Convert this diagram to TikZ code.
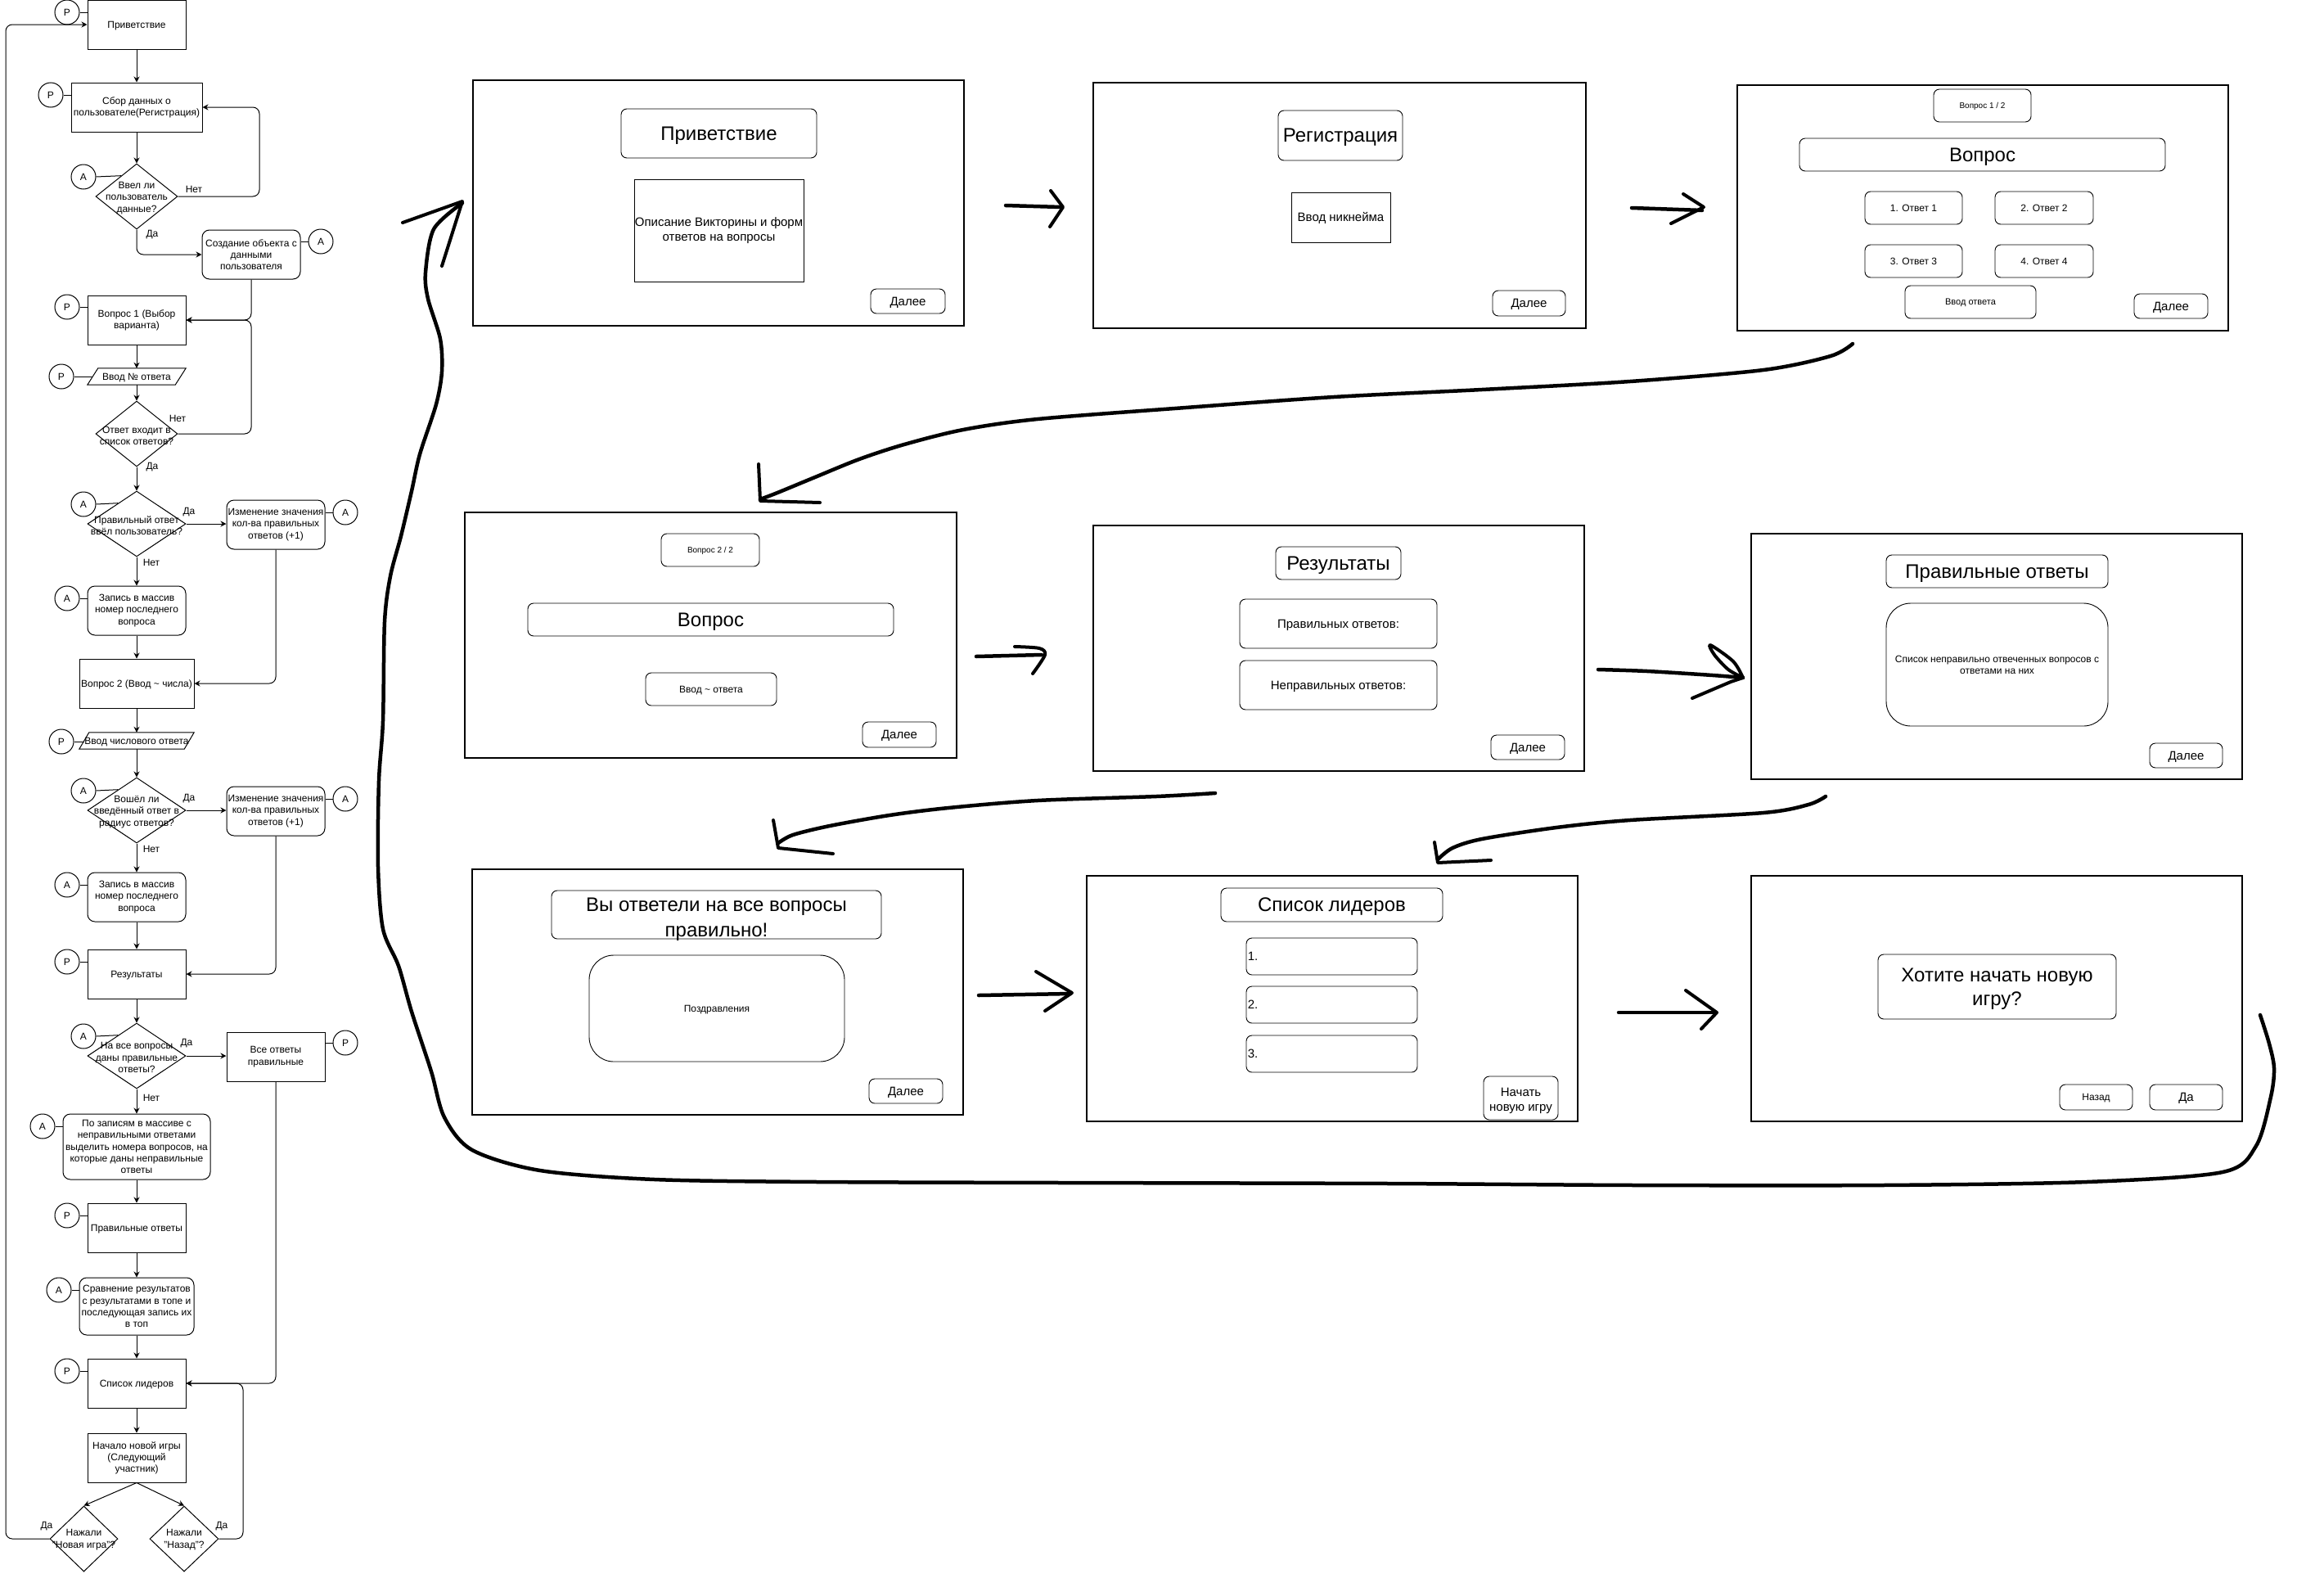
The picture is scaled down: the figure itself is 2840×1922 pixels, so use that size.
\documentclass[tikz,border=0pt]{standalone}
\usepackage{fontspec}
\setmainfont{Liberation Sans}
\usetikzlibrary{shapes.geometric,arrows.meta,calc}
\tikzset{
  f10/.style={font=\fontsize{10pt}{12pt}\selectfont},
  f11/.style={font=\fontsize{11pt}{13pt}\selectfont},
  f12/.style={font=\fontsize{12pt}{14.2pt}\selectfont},
  f15/.style={font=\fontsize{15pt}{18.5pt}\selectfont},
  f24/.style={font=\fontsize{24pt}{29pt}\selectfont},
  s10/.style={f10,text height=9pt,text depth=2.1pt},
  s11/.style={f11,text height=10pt,text depth=2.3pt},
  s12/.style={f12,text height=10.9pt,text depth=2.5pt},
  s15/.style={f15,text height=13.6pt,text depth=3.2pt},
  s24/.style={f24,text height=21.7pt,text depth=5.1pt},
  ln/.style={line width=1pt},
  arr/.style={line width=1pt,-{Stealth[length=7pt,width=7pt]}},
  proc/.style={draw,line width=1pt,rectangle,align=center,inner sep=0pt,f12,minimum width=120,minimum height=60},
  rproc/.style={proc,rounded corners=9pt},
  dec/.style={draw,line width=1pt,diamond,inner sep=0pt},
  dtext/.style={align=center,inner sep=0pt,f12},
  conn/.style={draw,circle,line width=1pt,minimum size=30,inner sep=0pt,f12},
  lbl/.style={inner sep=0pt,f12},
  scr/.style={draw,line width=1.2pt,rectangle,inner sep=0pt},
  ui/.style={draw,line width=0.9pt,rounded corners=7pt,align=center,inner sep=0pt},
  uisq/.style={draw,line width=0.9pt,rectangle,align=center,inner sep=0pt},
  uitext/.style={align=center,inner sep=0pt},
  hand/.style={line width=4.5pt,line cap=round,line join=round},
  handhead/.style={line width=4pt,line cap=round,line join=round}
}
\begin{document}
\begin{tikzpicture}[x=1pt,y=-1pt]
\useasboundingbox (0,0) rectangle (2840,1922);
\fill[white] (0,0) rectangle (2840,1922);

% ---------------- Flowchart ----------------
\node[proc,s12] (prv) at (167,30) {Приветствие};
\node[proc,minimum width=160] (sbor) at (167,131) {Сбор данных о\\пользователе(Регистрация)};
\node[dec,minimum width=100,minimum height=80] (d1) at (167,240) {};
\node[dtext] (d1t) at (167,242) {Ввел ли\\пользователь\\данные?};
\node[rproc] (sozd) at (307,311) {Создание объекта с\\данными\\пользователя};
\node[proc] (v1) at (167,391) {Вопрос 1 (Выбор\\варианта)};
\node[minimum width=120,minimum height=20,inner sep=0pt,s12] (in1) at (167,460) {Ввод № ответа};
\draw[ln] (in1.south west) -- ($(in1.north west)+(13,0)$) -- (in1.north east) -- ($(in1.south east)+(-13,0)$) -- cycle;
\node[dec,minimum width=100,minimum height=80] (d2) at (167,530) {};
\node[dtext] (d2t) at (167,532) {Ответ входит в\\список ответов?};
\node[dec,minimum width=120,minimum height=80] (d3) at (167,640) {};
\node[dtext] (d3t) at (167,642) {Правильный ответ\\ввёл пользователь?};
\node[rproc] (izm1) at (337,641) {Изменение значения\\кол-ва правильных\\ответов (+1)};
\node[rproc] (zap1) at (167,746) {Запись в массив\\номер последнего\\вопроса};
\node[proc,s12,minimum width=140] (v2) at (167,835) {Вопрос 2 (Ввод \textasciitilde\ числа)};
\node[minimum width=140,minimum height=20,inner sep=0pt,s12] (in2) at (167,905) {Ввод числового ответа};
\draw[ln] (in2.south west) -- ($(in2.north west)+(12,0)$) -- (in2.north east) -- ($(in2.south east)+(-12,0)$) -- cycle;
\node[dec,minimum width=120,minimum height=80] (d4) at (167,990) {};
\node[dtext] (d4t) at (167,992) {Вошёл ли\\введённый ответ в\\радиус ответов?};
\node[rproc] (izm2) at (337,991) {Изменение значения\\кол-ва правильных\\ответов (+1)};
\node[rproc] (zap2) at (167,1096) {Запись в массив\\номер последнего\\вопроса};
\node[proc,s12] (res) at (167,1190) {Результаты};
\node[dec,minimum width=120,minimum height=80] (d5) at (167,1290) {};
\node[dtext] (d5t) at (167,1292) {На все вопросы\\даны правильные\\ответы?};
\node[proc] (vse) at (337,1291) {Все ответы\\правильные};
\node[rproc,minimum width=180,minimum height=80] (pozap) at (167,1401) {По записям в массиве с\\неправильными ответами\\выделить номера вопросов, на\\которые даны неправильные\\ответы};
\node[proc,s12] (pravotv) at (167,1500) {Правильные ответы};
\node[rproc,minimum width=140,minimum height=70] (sravn) at (167,1596) {Сравнение результатов\\с результатами в топе и\\последующая запись их\\в топ};
\node[proc,s12] (spisok) at (167,1690) {Список лидеров};
\node[proc] (nachalo) at (167,1781) {Начало новой игры\\(Следующий\\участник)};
\node[dec,minimum width=83,minimum height=80] (d6) at (102.5,1880) {};
\node[dtext] (d6t) at (102.5,1881) {Нажали\\"Новая игра"?};
\node[dec,minimum width=84,minimum height=80] (d7) at (225,1880) {};
\node[dtext] (d7t) at (225,1881) {Нажали\\"Назад"?};

% connectors circles
\node[conn] (c1) at (82,15) {P};
\draw[ln] (c1.east) -- (c1.east -| prv.west);
\node[conn] (c2) at (62,116) {P};
\draw[ln] (c2.east) -- (c2.east -| sbor.west);
\node[conn] (c3) at (102,216) {A};
\draw[ln] (c3.east) -- ($(d1.north)!0.375!(d1.west)$);
\node[conn] (c4) at (392,295) {A};
\draw[ln] (c4.west) -- (c4.west -| sozd.east);
\node[conn] (c5) at (82,375) {P};
\draw[ln] (c5.east) -- (c5.east -| v1.west);
\node[conn] (c6) at (75,460) {P};
\draw[ln] (c6.east) -- ($(in1.west)+(6,0)$);
\node[conn] (c7) at (102,616) {A};
\draw[ln] (c7.east) -- ($(d3.north)!0.375!(d3.west)$);
\node[conn] (c8) at (422,626) {A};
\draw[ln] (c8.west) -- (c8.west -| izm1.east);
\node[conn] (c9) at (82,731) {A};
\draw[ln] (c9.east) -- (c9.east -| zap1.west);
\node[conn] (c10) at (75,906) {P};
\draw[ln] (c10.east) -- ($(in2.west)+(6,1)$);
\node[conn] (c11) at (102,966) {A};
\draw[ln] (c11.east) -- ($(d4.north)!0.375!(d4.west)$);
\node[conn] (c12) at (422,976) {A};
\draw[ln] (c12.west) -- (c12.west -| izm2.east);
\node[conn] (c13) at (82,1081) {A};
\draw[ln] (c13.east) -- (c13.east -| zap2.west);
\node[conn] (c14) at (82,1175) {P};
\draw[ln] (c14.east) -- (c14.east -| res.west);
\node[conn] (c15) at (102,1266) {A};
\draw[ln] (c15.east) -- ($(d5.north)!0.375!(d5.west)$);
\node[conn] (c16) at (422,1274) {P};
\draw[ln] (c16.west) -- (c16.west -| vse.east);
\node[conn] (c17) at (52,1376) {A};
\draw[ln] (c17.east) -- (c17.east -| pozap.west);
\node[conn] (c18) at (82,1485) {P};
\draw[ln] (c18.east) -- (c18.east -| pravotv.west);
\node[conn] (c19) at (72,1576) {A};
\draw[ln] (c19.east) -- (c19.east -| sravn.west);
\node[conn] (c20) at (82,1675) {P};
\draw[ln] (c20.east) -- (c20.east -| spisok.west);

% flow edges
\draw[arr] (prv) -- (sbor);
\draw[arr] (sbor) -- (d1.north);
\draw[arr,rounded corners=8pt] (d1.east) -- (317,240) -- (317,131) -- (sbor.east);
\draw[arr,rounded corners=8pt] (d1.south) -- (167,311) -- (sozd.west);
\draw[arr,rounded corners=8pt] (sozd.south) -- (307,391) -- (v1.east);
\draw[arr] (v1) -- (in1);
\draw[arr] (in1) -- (d2.north);
\draw[arr,rounded corners=8pt] (d2.east) -- (307,530) -- (307,391) -- (v1.east);
\draw[arr] (d2.south) -- (d3.north);
\draw[arr] (d3.east) -- (d3.east -| izm1.west);
\draw[arr] (d3.south) -- (zap1.north);
\draw[arr] (zap1) -- (v2);
\draw[arr,rounded corners=8pt] (izm1.south) -- (337,835) -- (v2.east);
\draw[arr] (v2) -- (in2);
\draw[arr] (in2) -- (d4.north);
\draw[arr] (d4.east) -- (d4.east -| izm2.west);
\draw[arr] (d4.south) -- (zap2.north);
\draw[arr] (zap2) -- (res);
\draw[arr,rounded corners=8pt] (izm2.south) -- (337,1190) -- (res.east);
\draw[arr] (res) -- (d5.north);
\draw[arr] (d5.east) -- (d5.east -| vse.west);
\draw[arr] (d5.south) -- (pozap.north);
\draw[arr] (pozap) -- (pravotv);
\draw[arr] (pravotv) -- (sravn);
\draw[arr] (sravn) -- (spisok);
\draw[arr,rounded corners=8pt] (vse.south) -- (337,1690) -- (spisok.east);
\draw[arr] (spisok) -- (nachalo);
\draw[arr] (nachalo.south) -- (d6.north);
\draw[arr] (nachalo.south) -- (d7.north);
\draw[arr,rounded corners=8pt] (d6.west) -- (7,1880) -- (7,30) -- (prv.west);
\draw[arr,rounded corners=8pt] (d7.east) -- (297,1880) -- (297,1690) -- (spisok.east);

% edge labels
\node[lbl] at (237,231) {Нет};
\node[lbl] at (186,287) {Да};
\node[lbl] at (217,511) {Нет};
\node[lbl] at (186,571) {Да};
\node[lbl] at (231,626) {Да};
\node[lbl] at (185,687) {Нет};
\node[lbl] at (231,976) {Да};
\node[lbl] at (185,1037) {Нет};
\node[lbl] at (228,1275) {Да};
\node[lbl] at (185,1341) {Нет};
\node[lbl] at (57,1865) {Да};
\node[lbl] at (271,1865) {Да};

% ---------------- Screens ----------------
% S1
\node[scr,minimum width=600,minimum height=300] (s1) at (878,248) {};
\node[ui,s24,minimum width=239,minimum height=60] (s1t) at (878.5,163) {Приветствие};
\node[uisq,f15,minimum width=207,minimum height=125] (s1d) at (878.5,281.5) {Описание Викторины и форм\\ответов на вопросы};
\node[ui,s15,minimum width=91,minimum height=30] (s1n) at (1109.5,368) {Далее};
% S2
\node[scr,minimum width=602,minimum height=300] (s2) at (1637,251) {};
\node[ui,s24,minimum width=152,minimum height=61] (s2t) at (1638,165.5) {Регистрация};
\node[uisq,s15,minimum width=121,minimum height=61] (s2d) at (1638.5,265.5) {Ввод никнейма};
\node[ui,s15,minimum width=89,minimum height=31] (s2n) at (1868.5,370.5) {Далее};
% S3
\node[scr,minimum width=600,minimum height=300] (s3) at (2423,254) {};
\node[ui,s10,minimum width=119,minimum height=40] (s3q) at (2422.5,129) {Вопрос 1 / 2};
\node[ui,s24,minimum width=447,minimum height=40] (s3v) at (2422.5,189) {Вопрос};
\node[ui,s12,minimum width=119,minimum height=40] (s3a1) at (2338.5,254) {1. Ответ 1};
\node[ui,s12,minimum width=120,minimum height=40] (s3a2) at (2498,254) {2. Ответ 2};
\node[ui,s12,minimum width=119,minimum height=40] (s3a3) at (2338.5,319) {3. Ответ 3};
\node[ui,s12,minimum width=120,minimum height=40] (s3a4) at (2498,319) {4. Ответ 4};
\node[ui,s11,minimum width=160,minimum height=40] (s3i) at (2408,369) {Ввод ответа};
\node[ui,s15,minimum width=90,minimum height=30] (s3n) at (2653,374) {Далее};
% S4
\node[scr,minimum width=601,minimum height=300] (s4) at (868.5,776) {};
\node[ui,s10,minimum width=120,minimum height=40] (s4q) at (868,672) {Вопрос 2 / 2};
\node[ui,s24,minimum width=447,minimum height=40] (s4v) at (868.5,757) {Вопрос};
\node[ui,s12,minimum width=160,minimum height=40] (s4i) at (869,842) {Ввод \textasciitilde\ ответа};
\node[ui,s15,minimum width=90,minimum height=31] (s4n) at (1099,897.5) {Далее};
% S5
\node[scr,minimum width=600,minimum height=300] (s5) at (1636,792) {};
\node[ui,s24,minimum width=153,minimum height=40] (s5t) at (1635.5,688) {Результаты};
\node[ui,s15,minimum width=241,minimum height=60] (s5p) at (1635.5,762) {Правильных ответов:};
\node[ui,s15,minimum width=241,minimum height=60] (s5w) at (1635.5,837) {Неправильных ответов:};
\node[ui,s15,minimum width=90,minimum height=30] (s5n) at (1867,913) {Далее};
% S6
\node[scr,minimum width=600,minimum height=300] (s6) at (2440,802) {};
\node[ui,s24,minimum width=271,minimum height=40] (s6t) at (2440.5,698) {Правильные ответы};
\node[ui,f12,rounded corners=30pt,minimum width=271,minimum height=150] (s6l) at (2440.5,812) {Список неправильно отвеченных вопросов с\\ответами на них};
\node[ui,s15,minimum width=89,minimum height=30] (s6n) at (2671.5,923) {Далее};
% S7
\node[scr,minimum width=600,minimum height=300] (s7) at (877,1212) {};
\node[ui,minimum width=403,minimum height=59] (s7t) at (875.5,1117.5) {};
\node[uitext,font=\fontsize{24pt}{31pt}\selectfont] (s7tt) at (875.5,1123) {Вы ответели на все вопросы\\правильно!};
\node[ui,s12,rounded corners=30pt,minimum width=312,minimum height=130] (s7c) at (876,1232) {Поздравления};
\node[ui,s15,minimum width=90,minimum height=30] (s7n) at (1107,1333) {Далее};
% S8
\node[scr,minimum width=600,minimum height=300] (s8) at (1628,1220) {};
\node[ui,s24,minimum width=271,minimum height=41] (s8t) at (1627.5,1105.5) {Список лидеров};
\node[ui,minimum width=209,minimum height=45] (s8e1) at (1627.5,1168.5) {};
\node[ui,minimum width=209,minimum height=45] (s8e2) at (1627.5,1227.5) {};
\node[ui,minimum width=209,minimum height=45] (s8e3) at (1627.5,1287.5) {};
\node[s15,anchor=west,inner sep=0pt] (s8l1) at ($(s8e1.west)+(2,0)$) {1.};
\node[s15,anchor=west,inner sep=0pt] (s8l2) at ($(s8e2.west)+(2,0)$) {2.};
\node[s15,anchor=west,inner sep=0pt] (s8l3) at ($(s8e3.west)+(2,0)$) {3.};
\node[ui,minimum width=91,minimum height=53] (s8b) at (1858.5,1341.5) {};
\node[uitext,f15] (s8bt) at (1858.5,1345) {Начать\\новую игру};
% S9
\node[scr,minimum width=600,minimum height=300] (s9) at (2440,1220) {};
\node[ui,minimum width=291,minimum height=79] (s9q) at (2440.5,1205.5) {};
\node[uitext,f24] (s9qt) at (2440.5,1208.5) {Хотите начать новую\\игру?};
\node[ui,s12,minimum width=89,minimum height=31] (s9b) at (2561.5,1340.5) {Назад};
\node[ui,s15,minimum width=89,minimum height=31] (s9y) at (2671.5,1340.5) {Да};

% ---------------- Hand-drawn arrows ----------------
% S1 -> S2
\draw[hand] (1229,251) -- (1297,253);
\draw[handhead] (1284,233) -- (1299,253) -- (1283,277);
% S2 -> S3
\draw[hand] (1994,254) -- (2080,257);
\draw[handhead] (2057,237) -- (2082,253) -- (2042,273);
% S3 -> S4 (big curve)
\draw[hand] plot[smooth] coordinates {(2264,420) (2237,435) (2155,452) (1992,466) (1811,476) (1630,485) (1449,498) (1268,512) (1177,525) (1105,543) (1050,561) (996,583) (950,602) (929,610)};
\draw[handhead] (927,567) -- (929,612) -- (1002,614);
% S4 -> S5
\draw[hand] (1193,802) -- (1273,800);
\draw[handhead] plot[smooth] coordinates {(1240,790) (1270,792) (1277,800) (1262,823)};
% S5 -> S6
\draw[hand] plot[smooth] coordinates {(1953,818) (2013,820) (2093,825) (2130,828)};
\draw[handhead] plot[smooth] coordinates {(2130,828) (2118,808) (2090,788) (2095,800) (2112,818) (2130,828)};
\draw[handhead] (2068,853) -- (2115,833) -- (2130,828);
% S5 -> S7
\draw[hand] plot[smooth] coordinates {(1485,969) (1413,973) (1268,978) (1159,987) (1087,996) (1014,1009) (969,1020) (951,1030)};
\draw[handhead] (945,1002) -- (951,1036) -- (1018,1043);
% S6 -> S8
\draw[hand] plot[smooth] coordinates {(2231,973) (2210,983) (2155,993) (1992,1002) (1902,1011) (1811,1025) (1775,1036) (1757,1050)};
\draw[handhead] (1753,1029) -- (1757,1054) -- (1822,1051);
% S7 -> S8
\draw[hand] (1196,1216) -- (1308,1214);
\draw[handhead] (1266,1187) -- (1310,1213) -- (1277,1235);
% S8 -> S9
\draw[hand] (1978,1237) -- (2097,1237);
\draw[handhead] (2060,1210) -- (2098,1237) -- (2079,1257);
% big loop S9 -> S1
\draw[hand] plot[smooth] coordinates {(2762,1240) (2773,1275) (2779,1305) (2775,1340) (2757,1400) (2716,1432) (2550,1444) (2300,1448) (2000,1448) (1700,1446) (1300,1445) (1000,1444) (800,1441) (660,1430) (577,1405) (543,1365) (527,1309) (503,1236) (487,1180) (468,1135) (462,1059) (463,954) (468,881) (470,760) (477,704) (490,655) (503,600) (513,555) (533,494) (540,454) (538,414) (523,365) (520,333) (530,280) (565,248)};
\draw[handhead] (492,272) -- (565,246) -- (540,325);
\end{tikzpicture}
\end{document}
